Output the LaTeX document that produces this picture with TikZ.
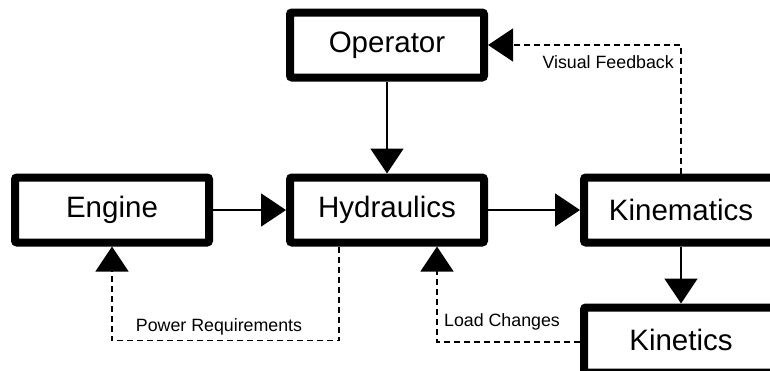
\documentclass[tikz,border=0pt]{standalone}
\usepackage{fontspec}
\setmainfont{Liberation Sans}
\usetikzlibrary{arrows.meta, positioning, calc}

\begin{document}
\begin{tikzpicture}[
  x=1pt, y=-1pt,
  block/.style={draw, line width=8pt, rounded corners=2pt, minimum width=194pt,
    minimum height=65pt, inner sep=0pt, font=\fontsize{29.5}{34}\selectfont},
  arr/.style={-{Triangle[length=25pt, width=33pt]}, line width=1.6pt},
  fb/.style={arr, line width=1.4pt, dash pattern=on 6pt off 4pt},
  fblabel/.style={inner sep=0pt, font=\fontsize{17.8}{20}\selectfont},
]
\useasboundingbox (0,0) rectangle (770,370);

% Blocks
\node[block] (operator) at (387, 45) {Operator};
\node[block] (engine) at (112, 210) {Engine};
\node[block] (hydraulics) at (387, 210) {Hydraulics};
\node[block] (kinematics) at (681, 210) {Kinematics};
\node[block] (kinetics) at (681, 340) {Kinetics};

% Forward path
\draw[arr] (engine.east) -- (hydraulics.west);
\draw[arr] (operator.south) -- (hydraulics.north);
\draw[arr] (hydraulics.east) -- (kinematics.west);
\draw[arr] (kinematics.south) -- (kinetics.north);

% Feedback paths
\draw[fb] (kinematics.north) |- (operator.east);
\node[fblabel, anchor=east] (visual) at (674, 62) {Visual Feedback};

\draw[fb] ([xshift=-48pt]hydraulics.south) -- ++(0,94) -| (engine.south);
\node[fblabel] (power) at (219, 327) {Power Requirements};

\draw[fb] ([yshift=-2pt]kinetics.west) -| ([xshift=50pt]hydraulics.south);
\node[fblabel] (load) at (502, 322) {Load Changes};

\end{tikzpicture}
\end{document}
